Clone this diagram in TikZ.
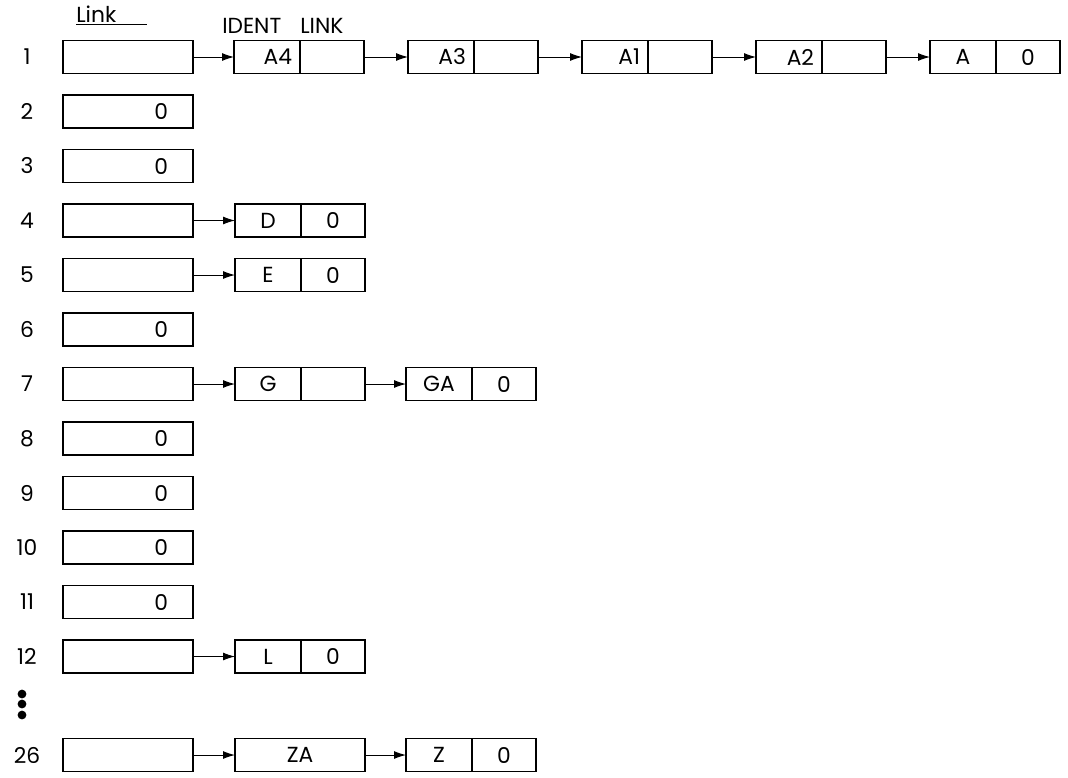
\documentclass[tikz,border=0pt]{standalone}
\usepackage{fontspec}
\setmainfont{Poppins}
\usetikzlibrary{arrows.meta,positioning}

\begin{document}
\begin{tikzpicture}[x=.25mm,y=-.25mm,font=\fontsize{15.5}{18}\selectfont,
 slot/.style={draw,line width=1.2pt,minimum height=8.25mm,inner sep=0pt,outer sep=0pt},
 entry/.style={slot,minimum width=32.5mm},
 entrynil/.style={entry,text width=20mm,align=right,inner xsep=6.25mm},
 ident/.style={slot,minimum width=16.5mm},
 identr/.style={ident,text width=12.5mm,align=right,inner xsep=2mm},
 nextpart/.style={slot,minimum width=16mm},
 whole/.style={slot,minimum width=32.5mm},
 ptr/.style={-{Latex[length=3mm,width=2mm]},line width=.7pt},
 heading/.style={anchor=base west,inner sep=0pt}]
 \useasboundingbox (0,0) rectangle (1068,777);
 % column headings
 \node[heading] (hlink) at (76,22) {Link};
 \draw[line width=.9pt] ([yshift=-.6mm]hlink.base west) -- ++(17.75mm,0);
 \node[heading] (hident) at (222,33) {IDENT};
 \node[heading] (hnext) at (300,33) {LINK};
 % row numbers and the table of heads
 \foreach \r in {1,...,12}
   \node (n\r) at (27,{57+54.5*(\r-1)}) {\r};
 \node (n26) at (27,755) {26};
 \foreach \y in {694,704,715} \fill (22,\y) circle (1.1mm);
 \foreach \r in {1,4,5,7,12}
   \node[entry] (e\r) at (128,{57+54.5*(\r-1)}) {};
 \node[entry] (e26) at (128,755) {};
 \foreach \r in {2,3,6,8,9,10,11}
   \node[entrynil] (e\r) at (128,{57+54.5*(\r-1)}) {0};
 % row 1
 \foreach \i/\t/\x in {1/A4/267,2/A3/441,3/A1/615,4/A2/789} {
   \node[identr] (r1i\i) at (\x,57) {\t};
   \node[nextpart,right=0pt of r1i\i] (r1l\i) {};
 }
 \node[ident] (r1i5) at (963,57) {A};
 \node[nextpart,right=0pt of r1i5] (r1l5) {0};
 \draw[ptr] (e1) -- (r1i1);
 \foreach \i/\j in {1/2,2/3,3/4,4/5} \draw[ptr] (r1l\i) -- (r1i\j);
 % rows with one entry
 \foreach \r/\t in {4/D,5/E,12/L} {
   \node[ident] (c\r) at (268,{57+54.5*(\r-1)}) {\t};
   \node[nextpart,right=0pt of c\r] (d\r) {0};
   \draw[ptr] (e\r) -- (c\r);
 }
 % row 7
 \node[ident] (c7) at (268,384) {G};
 \node[nextpart,right=0pt of c7] (d7) {};
 \node[ident] (f7) at (439,384) {GA};
 \node[nextpart,right=0pt of f7] (g7) {0};
 \draw[ptr] (e7) -- (c7);
 \draw[ptr] (d7) -- (f7);
 % row 26
 \node[whole] (c26) at (300,755) {ZA};
 \node[ident] (f26) at (439,755) {Z};
 \node[nextpart,right=0pt of f26] (g26) {0};
 \draw[ptr] (e26) -- (c26);
 \draw[ptr] (c26) -- (f26);
\end{tikzpicture}
\end{document}
